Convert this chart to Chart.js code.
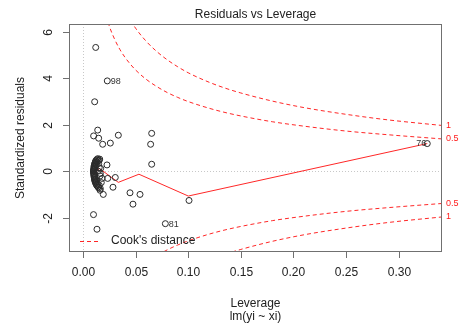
<!DOCTYPE html>
<html>
<head>
<meta charset="utf-8">
<script src="https://cdn.jsdelivr.net/npm/chart.js@4/dist/chart.umd.min.js"></script>
<style>
html,body{margin:0;padding:0;background:#fff;}
#wrap{width:460px;height:325px;}
</style>
</head>
<body>
<div id="wrap"><canvas id="c" width="460" height="325"></canvas></div>
<script>
// ---- Data ----
const chartTitle = 'Residuals vs Leverage';
const xTitle = 'Leverage';
const xSubTitle = 'lm(yi ~ xi)';
const yTitle = 'Standardized residuals';

const xTicks = [0, 0.05, 0.10, 0.15, 0.20, 0.25, 0.30];
const xTickLabels = ['0.00', '0.05', '0.10', '0.15', '0.20', '0.25', '0.30'];
const yTicks = [-2, 0, 2, 4, 6];
const yTickLabels = ['-2', '0', '2', '4', '6'];

// observations: leverage and standardized residuals
const leverage = [
  0.0121, 0.0231, 0.0111, 0.0140, 0.0101, 0.0149, 0.0187, 0.0260, 0.0336, 0.0653,
  0.0643, 0.0653, 0.0228, 0.0155, 0.0149, 0.0168, 0.0165, 0.0181, 0.0174, 0.0235,
  0.0307, 0.0285, 0.0162, 0.0193, 0.0447, 0.0542, 0.0475, 0.1008, 0.0100, 0.0133,
  0.0783, 0.3273,
  0.0100, 0.0100, 0.0102, 0.0102, 0.0104, 0.0104, 0.0105, 0.0105, 0.0107, 0.0107,
  0.0109, 0.0111, 0.0111, 0.0113, 0.0114, 0.0116, 0.0118, 0.0120, 0.0122, 0.0123,
  0.0127, 0.0131, 0.0134, 0.0140, 0.0143, 0.0150, 0.0100, 0.0102, 0.0104, 0.0107,
  0.0109, 0.0113, 0.0114, 0.0118, 0.0122, 0.0125, 0.0129, 0.0132, 0.0138, 0.0147,
  0.0154, 0.0159, 0.0165, 0.0145, 0.0154, 0.0163
];
const stdResid = [
  5.33, 3.89, 2.99, 1.77, 1.52, 1.42, 1.16, 1.21, 1.55, 1.63,
  1.16, 0.30, 0.27, 0.47, 0.33, 0.12, -0.10, -0.31, -0.49, -0.31,
  -0.27, -0.69, -0.82, -1.00, -0.93, -1.00, -1.42, -1.26, -1.87, -2.50,
  -2.26, 1.19,
  0.02, -0.05, 0.08, -0.12, 0.15, -0.18, 0.20, -0.22, -0.28, 0.25,
  -0.33, 0.30, -0.38, 0.34, -0.43, 0.38, -0.48, 0.42, -0.53, 0.46,
  -0.58, 0.50, -0.63, 0.54, -0.68, -0.72, -0.01, 0.05, -0.09, 0.12,
  -0.15, 0.10, -0.25, 0.20, -0.35, 0.28, -0.45, 0.40, -0.55, 0.45,
  -0.60, 0.52, -0.75, 0.00, 0.15, -0.20
];
// labelled observations (index into the arrays above)
const idNames = ['98', '81', '76'];
const idIndex = [1, 30, 31];

// smoother (red solid line)
const smoothLev = [0.0100, 0.0155, 0.0336, 0.0532, 0.1001, 0.3273];
const smoothRes = [-0.17, 0.12, -0.48, -0.13, -1.07, 1.19];

// Cook's distance contours
const cookLev = [0.020, 0.025, 0.030, 0.035, 0.040, 0.045, 0.050, 0.060, 0.070, 0.080,
                 0.090, 0.100, 0.120, 0.135, 0.150, 0.180, 0.210, 0.250, 0.290, 0.3413];
const cook05Upper = [7.00, 6.25, 5.69, 5.25, 4.90, 4.61, 4.36, 3.96, 3.65, 3.39,
                     3.18, 3.00, 2.71, 2.53, 2.38, 2.13, 1.94, 1.73, 1.57, 1.39];
const cook1Upper = [9.90, 8.83, 8.04, 7.43, 6.93, 6.52, 6.16, 5.60, 5.16, 4.80,
                    4.50, 4.24, 3.83, 3.58, 3.37, 3.02, 2.74, 2.45, 2.21, 1.97];
const cook05Lower = [-7.00, -6.25, -5.69, -5.25, -4.90, -4.61, -4.36, -3.96, -3.65, -3.39,
                     -3.18, -3.00, -2.71, -2.53, -2.38, -2.13, -1.94, -1.73, -1.57, -1.39];
const cook1Lower = [-9.90, -8.83, -8.04, -7.43, -6.93, -6.52, -6.16, -5.60, -5.16, -4.80,
                    -4.50, -4.24, -3.83, -3.58, -3.37, -3.02, -2.74, -2.45, -2.21, -1.97];
const cookLabels = ['1', '0.5', '0.5', '1'];
const legendLabel = "Cook's distance";

// ---- Chart ----
const FONT = '"Liberation Sans", Arial, Helvetica, sans-serif';
const RED = 'rgba(255,0,0,0.85)';
const pts = (xs, ys) => xs.map((x, i) => ({x: x, y: ys[i]}));

function cookDataset(ys) {
  return {
    data: pts(cookLev, ys), showLine: true, pointRadius: 0,
    borderColor: RED, borderWidth: 1, borderDash: [4, 3],
    cubicInterpolationMode: 'monotone', fill: false
  };
}

const decor = {
  id: 'decor',
  beforeDatasetsDraw(chart) {
    const {ctx, chartArea: a, scales: {x, y}} = chart;
    ctx.save();
    ctx.strokeStyle = '#c8c8c8';
    ctx.lineWidth = 1;
    ctx.setLineDash([1, 2]);
    const x0 = Math.round(x.getPixelForValue(0)) + 0.5;
    const y0 = Math.round(y.getPixelForValue(0)) + 0.5;
    ctx.beginPath();
    ctx.moveTo(x0, a.top); ctx.lineTo(x0, a.bottom);
    ctx.moveTo(a.left, y0); ctx.lineTo(a.right, y0);
    ctx.stroke();
    ctx.restore();
  },
  afterDraw(chart) {
    const {ctx, chartArea: a, scales: {x, y}} = chart;
    ctx.save();
    // box
    ctx.strokeStyle = '#707070';
    ctx.lineWidth = 1;
    ctx.setLineDash([]);
    ctx.strokeRect(a.left + 0.5, a.top + 0.5, a.right - a.left - 1, a.bottom - a.top - 1);
    // x ticks
    ctx.fillStyle = '#222';
    ctx.font = '12px ' + FONT;
    ctx.textAlign = 'center';
    ctx.textBaseline = 'middle';
    xTicks.forEach((v, i) => {
      const px = Math.round(x.getPixelForValue(v)) + 0.5;
      ctx.beginPath(); ctx.moveTo(px, a.bottom); ctx.lineTo(px, a.bottom + 6); ctx.stroke();
      ctx.fillText(xTickLabels[i], px, 273);
    });
    // y ticks (rotated labels)
    yTicks.forEach((v, i) => {
      const py = Math.round(y.getPixelForValue(v)) + 0.5;
      ctx.beginPath(); ctx.moveTo(a.left - 6, py); ctx.lineTo(a.left, py); ctx.stroke();
      ctx.save();
      ctx.translate(49, py);
      ctx.rotate(-Math.PI / 2);
      ctx.fillText(yTickLabels[i], 0, 0);
      ctx.restore();
    });
    // titles
    const cx = (a.left + a.right) / 2;
    ctx.fillText(chartTitle, cx, 15);
    ctx.fillText(xTitle, cx, 304);
    ctx.fillText(xSubTitle, cx, 317);
    ctx.save();
    ctx.translate(21, (a.top + a.bottom) / 2);
    ctx.rotate(-Math.PI / 2);
    ctx.fillText(yTitle, 0, 0);
    ctx.restore();
    // id labels
    ctx.font = '9px ' + FONT;
    ctx.fillStyle = '#333';
    const mid = (x.min + x.max) / 2;
    idIndex.forEach((k, i) => {
      const px = x.getPixelForValue(leverage[k]);
      const py = y.getPixelForValue(stdResid[k]);
      if (leverage[k] < mid) {
        ctx.textAlign = 'left'; ctx.fillText(idNames[i], px + 3.5, py + 1);
      } else {
        ctx.textAlign = 'right'; ctx.fillText(idNames[i], px - 1, py);
      }
    });
    // Cook's level labels outside right edge
    ctx.fillStyle = 'rgba(255,0,0,0.9)';
    ctx.textAlign = 'left';
    const ends = [cook1Upper, cook05Upper, cook05Lower, cook1Lower];
    ends.forEach((arr, i) => {
      ctx.fillText(cookLabels[i], a.right + 4, y.getPixelForValue(arr[arr.length - 1]));
    });
    // legend
    ctx.strokeStyle = RED;
    ctx.setLineDash([4, 3]);
    ctx.beginPath(); ctx.moveTo(80, 241.5); ctx.lineTo(101, 241.5); ctx.stroke();
    ctx.setLineDash([]);
    ctx.fillStyle = '#222';
    ctx.font = '12px ' + FONT;
    ctx.textAlign = 'left';
    ctx.fillText(legendLabel, 111, 241);
    ctx.restore();
  }
};

new Chart(document.getElementById('c'), {
  type: 'scatter',
  data: {
    datasets: [
      {
        data: pts(leverage, stdResid), showLine: false,
        pointStyle: 'circle', pointRadius: 3, pointBorderWidth: 1,
        pointBorderColor: '#2a2a2a', pointBackgroundColor: 'rgba(0,0,0,0)'
      },
      {
        data: pts(smoothLev, smoothRes), showLine: true, pointRadius: 0,
        borderColor: RED, borderWidth: 1, fill: false
      },
      cookDataset(cook05Upper),
      cookDataset(cook1Upper),
      cookDataset(cook05Lower),
      cookDataset(cook1Lower)
    ]
  },
  options: {
    responsive: false,
    devicePixelRatio: 1,
    animation: false,
    layout: {padding: {left: 69, right: 18, top: 24, bottom: 73}},
    scales: {
      x: {type: 'linear', min: -0.0133, max: 0.3413, display: false},
      y: {type: 'linear', min: -3.48, max: 6.34, display: false}
    },
    plugins: {legend: {display: false}, tooltip: {enabled: false}, title: {display: false}}
  },
  plugins: [decor]
});
</script>
</body>
</html>
